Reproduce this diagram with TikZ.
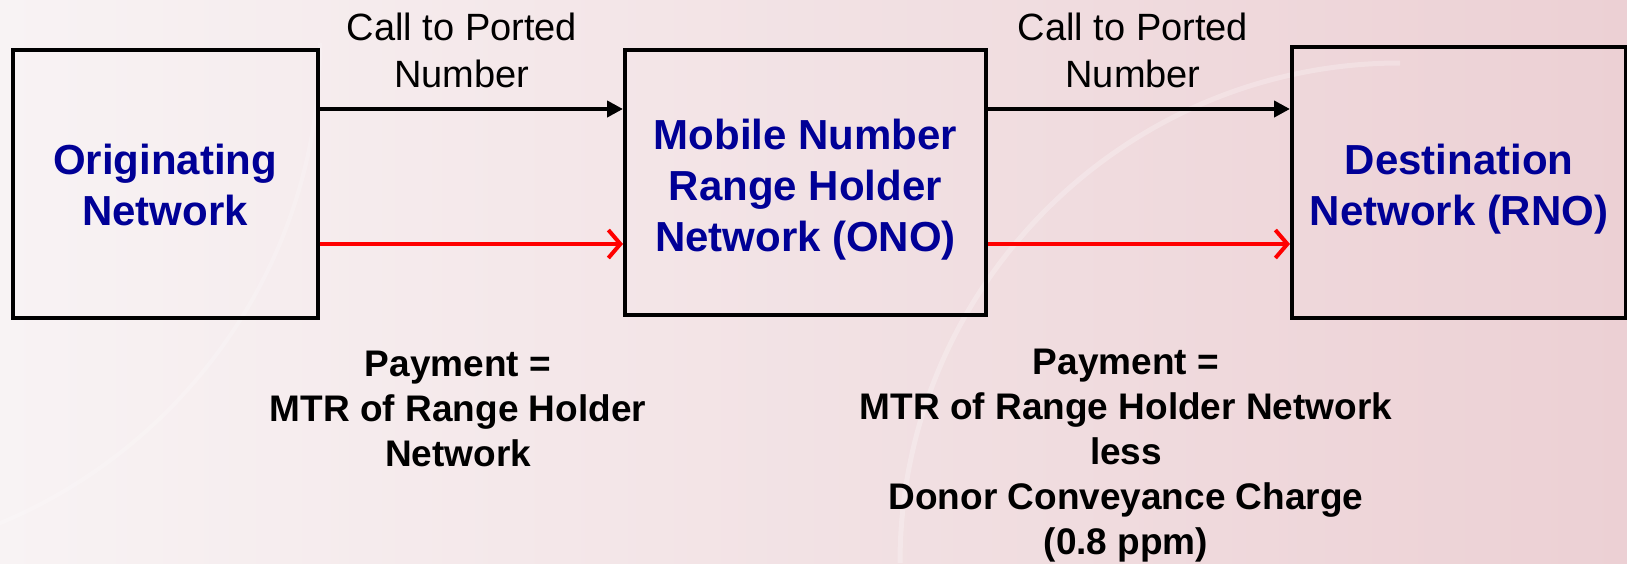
\documentclass[tikz,border=0pt]{standalone}
\usepackage{fontspec}
\setmainfont{Liberation Sans}
\usetikzlibrary{arrows.meta}
\definecolor{netblue}{RGB}{0,0,150}
\definecolor{bgpink}{RGB}{236,208,212}
\definecolor{bglight}{RGB}{248,243,244}

\begin{document}
\begin{tikzpicture}[x=1pt, y=1pt,
    netbox/.style={draw=black, line width=4pt, inner sep=0pt},
    netlabel/.style={align=center, text=netblue, font=\fontsize{42}{51}\selectfont\bfseries},
    calltext/.style={align=center, font=\fontsize{38}{47}\selectfont},
    paytext/.style={align=center, font=\fontsize{37}{45}\selectfont\bfseries},
    callarrow/.style={line width=4pt, -{Triangle[length=16pt,width=16pt]}},
    payarrow/.style={red, line width=4pt,
        -{Straight Barb[length=12pt,width=28pt,line width=4pt]}}]
    \useasboundingbox (0,0) rectangle (1627,-563);
    % background
    \begin{scope}
        \clip (0,0) rectangle (1627,-563);
        \shade [left color=bglight, right color=bgpink] (0,0) rectangle (1627,-563);
        \draw [white, line width=5pt, opacity=0.25] (900,-563) arc (180:90:500);
        \draw [white, line width=4pt, opacity=0.2] (-200,-563) arc (270:360:520);
    \end{scope}
    \coordinate (CallRow) at (0,-109);
    \coordinate (PayRow)  at (0,-244);
    \node [netbox, minimum width=305pt, minimum height=268pt] (orig) at (165,-184) {};
    \node [netbox, minimum width=361pt, minimum height=265pt] (ono) at (805.5,-182.5) {};
    \node [netbox, minimum width=334pt, minimum height=271pt] (rno) at (1459,-182.5) {};
    \node [netlabel] (origText) at ([yshift=-1pt]orig.center) {Originating\\Network};
    \node [netlabel] (onoText) at ([yshift=-7pt]ono.center) {Mobile Number\\Range Holder\\Network (ONO)};
    \node [netlabel] (rnoText) at ([yshift=-7pt]rno.center) {Destination\\Network (RNO)};
    \draw [callarrow] (orig.east |- CallRow) -- (ono.west |- CallRow);% call path
    \draw [callarrow] (ono.east |- CallRow) -- (rno.west |- CallRow);
    \draw [payarrow] (orig.east |- PayRow) -- (ono.west |- PayRow);% payment path
    \draw [payarrow] (ono.east |- PayRow) -- (rno.west |- PayRow);
    \node [calltext] (callA) at (462,-50) {Call to Ported\\Number};
    \node [calltext] (callB) at (1133,-50) {Call to Ported\\Number};
    \node [paytext] (payA) at (458,-409) {Payment =\\MTR of Range Holder\\Network};
    \node [paytext] (payB) at (1126,-456)
        {Payment =\\MTR of Range Holder Network\\less\\Donor Conveyance Charge\\(0.8 ppm)};
\end{tikzpicture}
\end{document}
